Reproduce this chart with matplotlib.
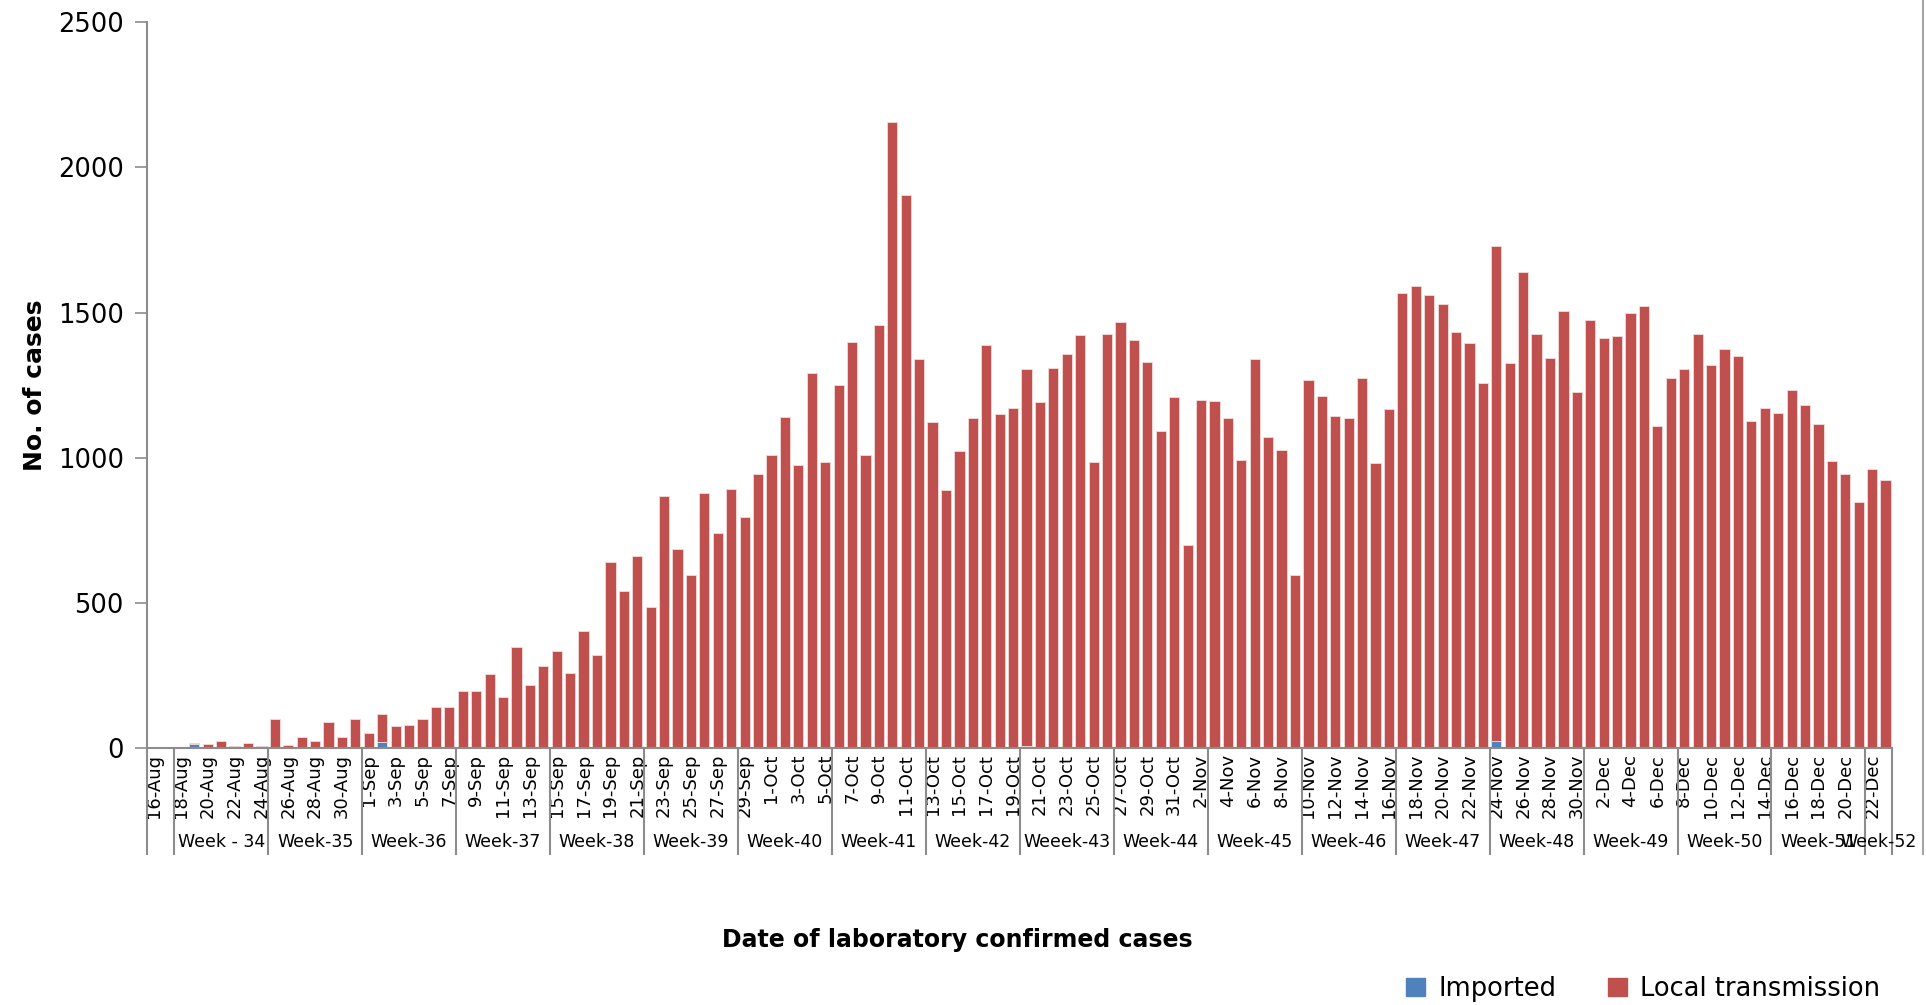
import numpy as np
import pandas as pd
import matplotlib
matplotlib.use("Agg")
import matplotlib.pyplot as plt
from matplotlib.patches import Patch

# daily dates 16-Aug .. 23-Dec
dates = pd.date_range("2020-08-16", "2020-12-23", freq="D")
date_labels = [f"{d.day}-{d.strftime('%b')}" for d in dates]

# total cases per day (top of stacked bar)
total = [0, 0, 2, 17, 13, 24, 9, 18, 9, 99,
         11, 40, 26, 92, 37, 99, 51, 119, 75, 81,
         101, 143, 143, 196, 196, 255, 178, 350, 218, 282,
         335, 258, 403, 322, 641, 542, 663, 487, 868, 685,
         595, 879, 740, 894, 795, 945, 1009, 1141, 974, 1293,
         985, 1251, 1399, 1011, 1458, 2156, 1905, 1341, 1123, 888,
         1024, 1137, 1388, 1150, 1170, 1304, 1192, 1308, 1359, 1423,
         985, 1425, 1467, 1405, 1330, 1093, 1209, 698, 1200, 1196,
         1137, 993, 1339, 1070, 1026, 597, 1267, 1211, 1145, 1137,
         1275, 982, 1167, 1568, 1590, 1559, 1531, 1434, 1396, 1258,
         1729, 1328, 1639, 1427, 1344, 1507, 1225, 1476, 1412, 1419,
         1500, 1524, 1108, 1275, 1306, 1425, 1319, 1374, 1352, 1126,
         1170, 1154, 1233, 1181, 1115, 989, 945, 848, 963, 923]

# imported cases (small, mostly zero)
imported = [0] * len(total)
for i, v in {3: 15, 13: 3, 16: 5, 17: 22, 65: 6, 74: 2, 79: 3, 93: 5, 94: 5,
             95: 2, 100: 26, 102: 4, 111: 4, 125: 2}.items():
    imported[i] = v
local = [t - m for t, m in zip(total, imported)]

# week groups: (first index, last index, label)
weeks = [(0, 1, ""), (2, 8, "Week - 34"), (9, 15, "Week-35"), (16, 22, "Week-36"),
         (23, 29, "Week-37"), (30, 36, "Week-38"), (37, 43, "Week-39"),
         (44, 50, "Week-40"), (51, 57, "Week-41"), (58, 64, "Week-42"),
         (65, 71, "Weeek-43"), (72, 78, "Week-44"), (79, 85, "Week-45"),
         (86, 92, "Week-46"), (93, 99, "Week-47"), (100, 106, "Week-48"),
         (107, 113, "Week-49"), (114, 120, "Week-50"), (121, 127, "Week-51"),
         (128, 129, "Week-52")]

blue = "#4F81BD"
red = "#C0504D"
grey = "#8C8C8C"

fig = plt.figure(figsize=(19.26, 10.05), dpi=100)
ax = fig.add_axes([0.0765, 0.2555, 0.906, 0.7225])

x = np.arange(len(total))
ax.bar(x, imported, width=0.76, color=blue, edgecolor="#F2DCDB", linewidth=0.6)
ax.bar(x, local, bottom=imported, width=0.76, color=red, edgecolor="#F2DCDB", linewidth=0.6)

ax.set_xlim(-0.5, len(total) - 0.5)
ax.set_ylim(0, 2500)
ax.set_yticks([0, 500, 1000, 1500, 2000, 2500])
ax.tick_params(axis="y", labelsize=18.5, length=9, width=1.2, color=grey, pad=8)
ax.set_xticks(x[::2])
ax.set_xticklabels(date_labels[::2], rotation=90, fontsize=13)
ax.tick_params(axis="x", length=0, pad=4)

for s in ["top", "right"]:
    ax.spines[s].set_visible(False)
for s in ["left", "bottom"]:
    ax.spines[s].set_color(grey)
    ax.spines[s].set_linewidth(1.5)

# week separators and labels below the axis
trans = ax.get_xaxis_transform()
sep_bottom = -0.146
bounds = [w[0] - 0.5 for w in weeks] + [len(total) - 0.5]
for b in bounds:
    ax.plot([b, b], [0, sep_bottom], transform=trans, color=grey, lw=1.5, clip_on=False)
for a, b, lab in weeks:
    ax.text((a + b) / 2, -0.129, lab, transform=trans, ha="center", va="center", fontsize=12.5)

# chart border at the right
fig.add_artist(plt.Line2D([0.9985, 0.9985], [0.15, 1.0], color="#A6A6A6", lw=1.5))

ax.set_ylabel("No. of cases", fontsize=18, fontweight="bold", labelpad=8)
fig.text(0.497, 0.065, "Date of laboratory confirmed cases", ha="center", va="center",
         fontsize=17, fontweight="bold")

handles = [Patch(color=blue, label="Imported"), Patch(color=red, label="Local transmission")]
fig.legend(handles=handles, loc="lower right", bbox_to_anchor=(0.988, -0.02), ncol=2,
           frameon=False, fontsize=18.5, handlelength=0.75, handleheight=0.75,
           handletextpad=0.5, columnspacing=2.0)

fig.savefig("out.png", dpi=100)
